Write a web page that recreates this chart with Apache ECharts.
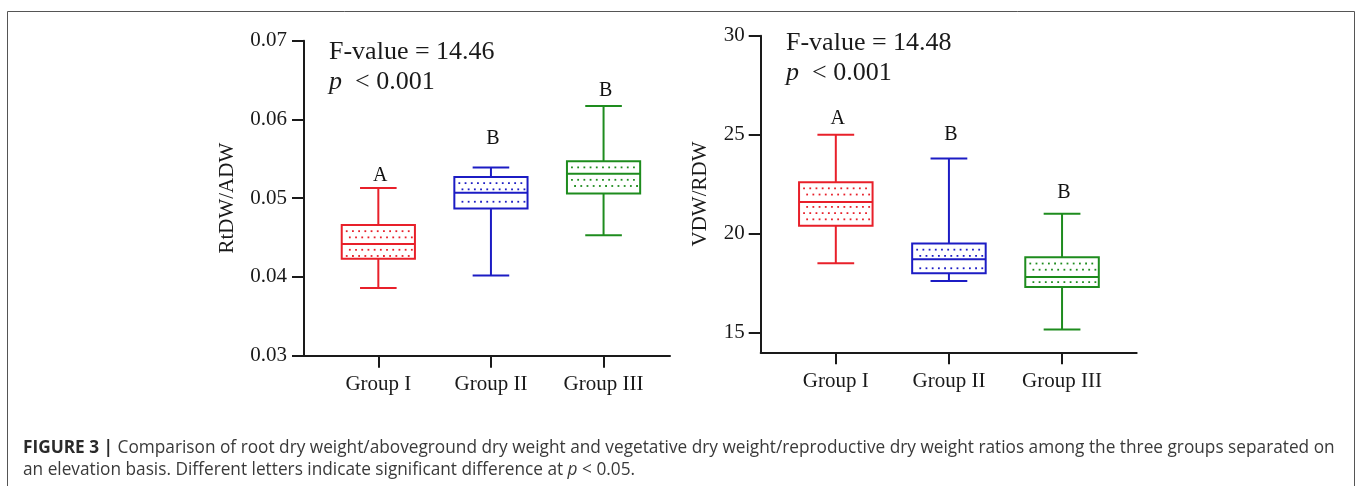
<!DOCTYPE html>
<html>
<head>
<meta charset="utf-8">
<script src="https://cdn.jsdelivr.net/npm/echarts@6/dist/echarts.min.js"></script>
<style>
html,body{margin:0;padding:0;background:#fff;}
#c{width:1357px;height:486px;}
</style>
</head>
<body>
<div id="c"></div>
<script>
// ---- data ----
const categories = ['Group I', 'Group II', 'Group III'];
const groupColors = ['#e8202a', '#1c1cc4', '#1e8c1e'];

// RtDW/ADW (left panel)
const rtMin = [0.0386, 0.0402, 0.0453];
const rtQ1  = [0.0423, 0.0487, 0.0506];
const rtMed = [0.0442, 0.0507, 0.0531];
const rtQ3  = [0.0466, 0.0527, 0.0547];
const rtMax = [0.0513, 0.0539, 0.0617];
const rtLetters = ['A', 'B', 'B'];
const rtLetterY = [0.0529, 0.0575, 0.0637];
const rtTicks = [0.03, 0.04, 0.05, 0.06, 0.07];

// VDW/RDW (right panel)
const vrMin = [18.5, 17.6, 15.15];
const vrQ1  = [20.4, 18.0, 17.3];
const vrMed = [21.6, 18.7, 17.8];
const vrQ3  = [22.6, 19.5, 18.8];
const vrMax = [25.0, 23.8, 21.0];
const vrLetters = ['A', 'B', 'B'];
const vrLetterY = [25.78, 24.98, 22.04];
const vrTicks = [15, 20, 25, 30];

const fValues = ['14.46', '14.48'];
const pText = '< 0.001';
const yNames = ['RtDW/ADW', 'VDW/RDW'];

// ---- chart ----
const SERIF = '"Liberation Serif", "Times New Roman", serif';
const SANS = '"Open Sans", "Liberation Sans", Arial, sans-serif';
const BOX_W = 0.65, CAP_W = 0.325;

function boxData(mn, q1, md, q3, mx) {
  return categories.map((c, i) => [i, mn[i], q1[i], md[i], q3[i], mx[i]]);
}

function renderBox(params, api) {
  const x = api.value(0);
  const col = groupColors[params.dataIndex];
  const pMin = api.coord([x, api.value(1)]);
  const pQ1 = api.coord([x, api.value(2)]);
  const pMed = api.coord([x, api.value(3)]);
  const pQ3 = api.coord([x, api.value(4)]);
  const pMax = api.coord([x, api.value(5)]);
  const xl = api.coord([x - BOX_W / 2, api.value(3)])[0];
  const xr = api.coord([x + BOX_W / 2, api.value(3)])[0];
  const cl = api.coord([x - CAP_W / 2, api.value(3)])[0];
  const cr = api.coord([x + CAP_W / 2, api.value(3)])[0];
  const xc = pMed[0];
  const lw = 2;
  const ls = {stroke: col, lineWidth: lw, fill: null};
  const children = [];
  children.push({type: 'line', shape: {x1: xc, y1: pMin[1], x2: xc, y2: pQ1[1]}, style: ls});
  children.push({type: 'line', shape: {x1: xc, y1: pQ3[1], x2: xc, y2: pMax[1]}, style: ls});
  children.push({type: 'line', shape: {x1: cl, y1: pMin[1], x2: cr, y2: pMin[1]}, style: ls});
  children.push({type: 'line', shape: {x1: cl, y1: pMax[1], x2: cr, y2: pMax[1]}, style: ls});
  children.push({type: 'rect', shape: {x: xl, y: pQ3[1], width: xr - xl, height: pQ1[1] - pQ3[1]},
    style: {fill: '#fff', stroke: col, lineWidth: lw}});
  const step = 6.2;
  let row = 0;
  for (let y = pQ3[1] + step; y < pQ1[1] - 2; y += step, row++) {
    if (Math.abs(y - pMed[1]) < 3.2) continue;
    const off = (row % 2) ? step / 2 : 0;
    for (let xx = xl + 5 + off; xx < xr - 3; xx += step) {
      children.push({type: 'rect', shape: {x: xx - 0.9, y: y - 0.9, width: 1.8, height: 1.8},
        style: {fill: col}});
    }
  }
  children.push({type: 'line', shape: {x1: xl, y1: pMed[1], x2: xr, y2: pMed[1]}, style: ls});
  return {type: 'group', children};
}

function renderLetter(params, api) {
  const p = api.coord([api.value(0), api.value(1)]);
  return {type: 'text', x: p[0] + 2, y: p[1],
    style: {text: api.value(2), fill: '#111', font: '20px ' + SERIF, align: 'center', verticalAlign: 'middle'}};
}

const axisLineStyle = {color: '#1a1a1a', width: 2};
const labelStyle = {color: '#1a1a1a', fontFamily: SERIF, fontSize: 21};

function xAxisCfg(gridIndex, min, max, margin) {
  return {
    type: 'value', gridIndex, min, max,
    axisLine: {show: true, onZero: false, lineStyle: axisLineStyle},
    axisTick: {show: true, length: 12, lineStyle: axisLineStyle, customValues: [0, 1, 2]},
    axisLabel: Object.assign({margin, customValues: [0, 1, 2],
      formatter: v => categories[Math.round(v)]}, labelStyle),
    splitLine: {show: false}
  };
}

const option = {
  animation: false,
  backgroundColor: '#fff',
  grid: [
    {left: 304, right: 687, top: 40.7, bottom: 130.3},
    {left: 760.7, right: 220.3, top: 35.7, bottom: 133.7}
  ],
  xAxis: [
    xAxisCfg(0, -0.66, 2.59, 18),
    xAxisCfg(1, -0.664, 2.66, 19)
  ],
  yAxis: [
    {
      type: 'value', gridIndex: 0, min: 0.03, max: 0.07, interval: 0.01,
      name: yNames[0], nameLocation: 'middle', nameGap: 66,
      nameTextStyle: {color: '#1a1a1a', fontFamily: SERIF, fontSize: 21},
      axisLine: {show: true, onZero: false, lineStyle: axisLineStyle},
      axisTick: {show: true, length: 12, lineStyle: axisLineStyle, customValues: rtTicks},
      axisLabel: Object.assign({margin: 17, customValues: rtTicks, formatter: v => v.toFixed(2)}, labelStyle),
      splitLine: {show: false}
    },
    {
      type: 'value', gridIndex: 1, min: 14, max: 30,
      name: yNames[1], nameLocation: 'middle', nameGap: 50,
      nameTextStyle: {color: '#1a1a1a', fontFamily: SERIF, fontSize: 21},
      axisLine: {show: true, onZero: false, lineStyle: axisLineStyle},
      axisTick: {show: true, length: 12, lineStyle: axisLineStyle, customValues: vrTicks},
      axisLabel: Object.assign({margin: 16, customValues: vrTicks}, labelStyle),
      splitLine: {show: false}
    }
  ],
  series: [
    {type: 'custom', xAxisIndex: 0, yAxisIndex: 0, renderItem: renderBox,
      encode: {x: 0, y: [1, 2, 3, 4, 5]}, data: boxData(rtMin, rtQ1, rtMed, rtQ3, rtMax)},
    {type: 'custom', xAxisIndex: 0, yAxisIndex: 0, renderItem: renderLetter,
      encode: {x: 0, y: 1}, data: categories.map((c, i) => [i, rtLetterY[i], rtLetters[i]])},
    {type: 'custom', xAxisIndex: 1, yAxisIndex: 1, renderItem: renderBox,
      encode: {x: 0, y: [1, 2, 3, 4, 5]}, data: boxData(vrMin, vrQ1, vrMed, vrQ3, vrMax)},
    {type: 'custom', xAxisIndex: 1, yAxisIndex: 1, renderItem: renderLetter,
      encode: {x: 0, y: 1}, data: categories.map((c, i) => [i, vrLetterY[i], vrLetters[i]])}
  ],
  graphic: [
    {type: 'rect', shape: {x: 7.5, y: 11.5, width: 1347, height: 500},
      style: {fill: null, stroke: '#555', lineWidth: 1}, silent: true},
    {type: 'text', x: 329, y: 52, style: {text: 'F-value = ' + fValues[0], fill: '#1a1a1a',
      font: '26px ' + SERIF, verticalAlign: 'middle'}},
    {type: 'text', x: 329, y: 81.7, style: {text: '{i|p}  ' + pText, fill: '#1a1a1a',
      font: '26px ' + SERIF, verticalAlign: 'middle',
      rich: {i: {fontStyle: 'italic', fontFamily: SERIF, fontSize: 26, fill: '#1a1a1a'}}}},
    {type: 'text', x: 786, y: 43.3, style: {text: 'F-value = ' + fValues[1], fill: '#1a1a1a',
      font: '26px ' + SERIF, verticalAlign: 'middle'}},
    {type: 'text', x: 786, y: 73.3, style: {text: '{i|p}  ' + pText, fill: '#1a1a1a',
      font: '26px ' + SERIF, verticalAlign: 'middle',
      rich: {i: {fontStyle: 'italic', fontFamily: SERIF, fontSize: 26, fill: '#1a1a1a'}}}},
    {type: 'text', x: 23, y: 448.5, style: {
      text: '{b|FIGURE 3 |} Comparison of root dry weight/aboveground dry weight and vegetative dry weight/reproductive dry weight ratios among the three groups separated on',
      fill: '#3a3a3a', font: '17.25px ' + SANS, verticalAlign: 'middle',
      rich: {b: {fontWeight: 'bold', fontFamily: SANS, fontSize: 17.25, fill: '#2a2a2a'}}}},
    {type: 'text', x: 23, y: 470, style: {
      text: 'an elevation basis. Different letters indicate significant difference at {i|p} < 0.05.',
      fill: '#3a3a3a', font: '17.25px ' + SANS, verticalAlign: 'middle',
      rich: {i: {fontStyle: 'italic', fontFamily: SANS, fontSize: 17.25, fill: '#3a3a3a'}}}}
  ]
};

const chart = echarts.init(document.getElementById('c'), null, {renderer: 'canvas'});
chart.setOption(option);
</script>
</body>
</html>
